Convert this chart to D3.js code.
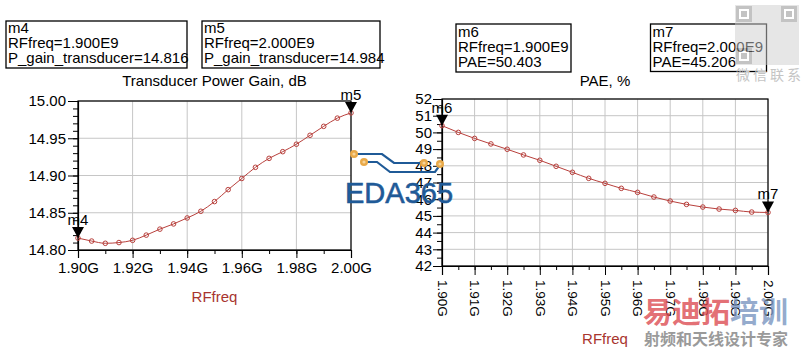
<!DOCTYPE html>
<html>
<head>
<meta charset="utf-8">
<script src="https://cdn.jsdelivr.net/npm/d3@7"></script>
<style>
  html, body { margin: 0; padding: 0; background: #fff; }
  svg { display: block; font-family: "Liberation Sans", Arial, sans-serif; }
</style>
</head>
<body>
<svg id="chart" width="804" height="353"></svg>
<script>
// ---------------- DATA ----------------
const rfFreq = [1.900, 1.905, 1.910, 1.915, 1.920, 1.925, 1.930, 1.935, 1.940, 1.945, 1.950,
                1.955, 1.960, 1.965, 1.970, 1.975, 1.980, 1.985, 1.990, 1.995, 2.000];
const gainValues = [14.816, 14.812, 14.809, 14.810, 14.813, 14.820, 14.828, 14.835, 14.843, 14.852, 14.865,
                    14.881, 14.896, 14.911, 14.923, 14.932, 14.942, 14.954, 14.966, 14.977, 14.984];
const paeValues = [50.403, 50.00, 49.64, 49.31, 48.99, 48.65, 48.33, 47.97, 47.61, 47.25, 46.95,
                   46.65, 46.41, 46.13, 45.89, 45.69, 45.53, 45.41, 45.33, 45.23, 45.206];
const gainYTicks = [14.80, 14.85, 14.90, 14.95, 15.00];
const gainXTicks = [1.90, 1.92, 1.94, 1.96, 1.98, 2.00];
const paeYTicks = [42, 43, 44, 45, 46, 47, 48, 49, 50, 51, 52];
const paeXTicks = [1.90, 1.91, 1.92, 1.93, 1.94, 1.95, 1.96, 1.97, 1.98, 1.99, 2.00];
const gainTitle = "Transducer Power Gain, dB";
const paeTitle = "PAE, %";
const xLabel = "RFfreq";
const markerNames = ["m4", "m5", "m6", "m7"];
const markerBoxes = [
  ["m4", "RFfreq=1.900E9", "P_gain_transducer=14.816"],
  ["m5", "RFfreq=2.000E9", "P_gain_transducer=14.984"],
  ["m6", "RFfreq=1.900E9", "PAE=50.403"],
  ["m7", "RFfreq=2.000E9", "PAE=45.206"]
];

// ---------------- DRAW ----------------
const svg = d3.select("#chart");
const curveColor = "#b8403c";
const gridColor = "#c6c6c6";
const FS = 15;

function range(a, b, s) { return d3.range(Math.round((b - a) / s) + 1).map(i => +(a + i * s).toFixed(6)); }

function drawPanel(opt) {
  const g = svg.append("g");
  const x = d3.scaleLinear().domain([1.9, 2.0]).range([opt.left, opt.right]);
  const y = d3.scaleLinear().domain(opt.yDomain).range([opt.bottom, opt.top]);

  // grid
  g.append("g").selectAll("line").data(opt.yTicks).join("line")
    .attr("x1", opt.left).attr("x2", opt.right)
    .attr("y1", d => y(d)).attr("y2", d => y(d))
    .attr("stroke", gridColor).attr("stroke-width", 1);
  g.append("g").selectAll("line").data(opt.xTicks).join("line")
    .attr("x1", d => x(d)).attr("x2", d => x(d))
    .attr("y1", opt.top).attr("y2", opt.bottom)
    .attr("stroke", gridColor).attr("stroke-width", 1);

  // frame
  g.append("rect").attr("x", opt.left).attr("y", opt.top)
    .attr("width", opt.right - opt.left).attr("height", opt.bottom - opt.top)
    .attr("fill", "none").attr("stroke", "#000").attr("stroke-width", 1.2);

  // y minor
  g.append("g").attr("transform", `translate(${opt.left},0)`)
    .call(d3.axisLeft(y).tickValues(opt.yMinor).tickSize(5).tickFormat(""))
    .call(a => a.select(".domain").remove());
  // y major
  const ya = g.append("g").attr("transform", `translate(${opt.left},0)`)
    .call(d3.axisLeft(y).tickValues(opt.yTicks).tickSize(opt.yTickLen).tickPadding(opt.yPad).tickFormat(opt.yFormat));
  ya.select(".domain").attr("stroke", "#000").attr("stroke-width", 1.2);
  ya.selectAll("text").attr("font-size", FS).attr("fill", "#000").attr("font-family", "Liberation Sans, Arial, sans-serif");

  // x minor
  g.append("g").attr("transform", `translate(0,${opt.bottom})`)
    .call(d3.axisBottom(x).tickValues(opt.xMinor).tickSize(4).tickFormat(""))
    .call(a => a.select(".domain").remove());
  // x major
  const xa = g.append("g").attr("transform", `translate(0,${opt.bottom})`)
    .call(d3.axisBottom(x).tickValues(opt.xTicks).tickSize(opt.xTickLen).tickFormat(d => d3.format(".2f")(d) + "G"));
  xa.select(".domain").attr("stroke", "#000").attr("stroke-width", 1.2);
  const xt = xa.selectAll("text").attr("font-size", opt.xFS).attr("fill", "#000").attr("font-family", "Liberation Sans, Arial, sans-serif");
  if (opt.rotate) {
    xt.attr("transform", "rotate(90)").attr("text-anchor", "start")
      .attr("x", 14).attr("y", 0).attr("dy", "0.35em");
  } else {
    xt.attr("y", 12).attr("dy", "0.71em");
  }

  // title
  g.append("text").attr("x", (opt.left + opt.right) / 2).attr("y", 86)
    .attr("text-anchor", "middle").attr("font-size", FS).text(opt.title);
  // x label
  g.append("text").attr("x", (opt.left + opt.right) / 2).attr("y", opt.xLabelY)
    .attr("text-anchor", "middle").attr("font-size", FS).attr("fill", "#a8352f").text(xLabel);

  // line
  const pts = rfFreq.map((f, i) => [f, opt.values[i]]);
  g.append("path").datum(pts)
    .attr("d", d3.line().x(d => x(d[0])).y(d => y(d[1])).curve(d3.curveMonotoneX))
    .attr("fill", "none").attr("stroke", curveColor).attr("stroke-width", 1);
  g.append("g").selectAll("circle").data(pts).join("circle")
    .attr("cx", d => x(d[0])).attr("cy", d => y(d[1])).attr("r", 2.3)
    .attr("fill", "none").attr("stroke", curveColor).attr("stroke-width", 1);

  // markers
  opt.markers.forEach(m => {
    const px = x(rfFreq[m.idx]), py = y(opt.values[m.idx]);
    g.append("path")
      .attr("d", `M${px - 6},${py - 11} L${px + 6},${py - 11} L${px},${py} Z`)
      .attr("fill", "#000");
    g.append("text").attr("x", px + (m.dx || 0)).attr("y", py - 13)
      .attr("text-anchor", "middle").attr("font-size", FS).text(m.name);
  });
  return { x, y };
}

drawPanel({
  left: 78, right: 351, top: 101, bottom: 250,
  yDomain: [14.8, 15.0], yTicks: gainYTicks, yMinor: range(14.8, 15.0, 0.01),
  xTicks: gainXTicks, xMinor: range(1.9, 2.0, 0.01),
  yFormat: d3.format(".2f"), yTickLen: 10, yPad: 2, xTickLen: 8, xFS: FS,
  values: gainValues, title: gainTitle, xLabelY: 302,
  markers: [{ idx: 0, name: markerNames[0] }, { idx: 20, name: markerNames[1] }]
});

drawPanel({
  left: 442, right: 768, top: 99, bottom: 266,
  yDomain: [42, 52], yTicks: paeYTicks, yMinor: range(42, 52, 0.5),
  xTicks: paeXTicks, xMinor: range(1.9, 2.0, 0.005),
  yFormat: d3.format("d"), yTickLen: 9, yPad: 1, xTickLen: 9, xFS: 13.5,
  rotate: true,
  values: paeValues, title: paeTitle, xLabelY: 344,
  markers: [{ idx: 0, name: markerNames[2] }, { idx: 20, name: markerNames[3] }]
});

// marker boxes
const boxGeom = [
  { x: 6, y: 21, w: 181, h: 47, base: 33 },
  { x: 202, y: 21, w: 178, h: 47, base: 33 },
  { x: 456, y: 24, w: 115, h: 48, base: 37 },
  { x: 650.5, y: 24, w: 116, h: 47.5, base: 37 }
];
markerBoxes.forEach((lines, i) => {
  const b = boxGeom[i];
  const g = svg.append("g");
  g.append("rect").attr("x", b.x).attr("y", b.y).attr("width", b.w).attr("height", b.h)
    .attr("fill", "#fff").attr("stroke", "#000").attr("stroke-width", 1.3);
  g.selectAll("text").data(lines).join("text")
    .attr("x", b.x + 2).attr("y", (d, j) => b.base + j * 15)
    .attr("font-size", FS).text(d => d);
});

// ---------------- WATERMARKS ----------------
// EDA365 logo
const wm = svg.append("g");
const blue = "#1f5a97", orange = "#e9a948";
wm.append("path").attr("d", "M354,154 L382,154 L394,163 L424,163")
  .attr("fill", "none").attr("stroke", blue).attr("stroke-width", 2.2);
wm.append("path").attr("d", "M364,162 L377,162 L390,172 L435,172 L440,165")
  .attr("fill", "none").attr("stroke", blue).attr("stroke-width", 2.2);
[[354, 154], [364, 162], [424, 163], [440, 164]].forEach(c => {
  wm.append("circle").attr("cx", c[0]).attr("cy", c[1]).attr("r", 4).attr("fill", orange);
  wm.append("circle").attr("cx", c[0]).attr("cy", c[1]).attr("r", 1.6).attr("fill", "#f6d49a");
});
wm.append("text").attr("x", 345).attr("y", 203).attr("font-size", 29)
  .attr("fill", blue).attr("stroke", blue).attr("stroke-width", 0.6)
  .attr("font-family", "Liberation Sans, Arial, sans-serif").text("EDA365");

// QR-like watermark (top right)
const qr = svg.append("g").attr("opacity", 0.5);
qr.append("rect").attr("x", 735).attr("y", 5).attr("width", 64).attr("height", 60).attr("fill", "#cfcfcf");
[[736, 6], [781, 6], [736, 48]].forEach(p => {
  qr.append("rect").attr("x", p[0]).attr("y", p[1]).attr("width", 16).attr("height", 16).attr("fill", "#888");
  qr.append("rect").attr("x", p[0] + 3).attr("y", p[1] + 3).attr("width", 10).attr("height", 10).attr("fill", "#fff");
  qr.append("rect").attr("x", p[0] + 5).attr("y", p[1] + 5).attr("width", 6).attr("height", 6).attr("fill", "#888");
});
svg.append("text").attr("x", 736).attr("y", 80).attr("font-size", 14).attr("letter-spacing", 3)
  .attr("fill", "#c4c4c4").attr("font-family", "Noto Sans CJK SC").text("微信联系");

// bottom-right training logo
const tl = svg.append("g").attr("font-family", "Noto Sans CJK SC").attr("font-weight", "bold");
const t1 = tl.append("text").attr("x", 643).attr("y", 323).attr("font-size", 29);
t1.append("tspan").attr("fill", "#dc4a50").attr("fill-opacity", 0.8).text("易迪拓");
t1.append("tspan").attr("fill", "#7894c0").attr("fill-opacity", 0.8).text("培训");
svg.append("text").attr("x", 644).attr("y", 345).attr("font-size", 16)
  .attr("fill", "#9a9a9a").attr("font-family", "Noto Sans CJK SC").attr("font-weight", "bold")
  .text("射频和天线设计专家");
</script>
</body>
</html>
